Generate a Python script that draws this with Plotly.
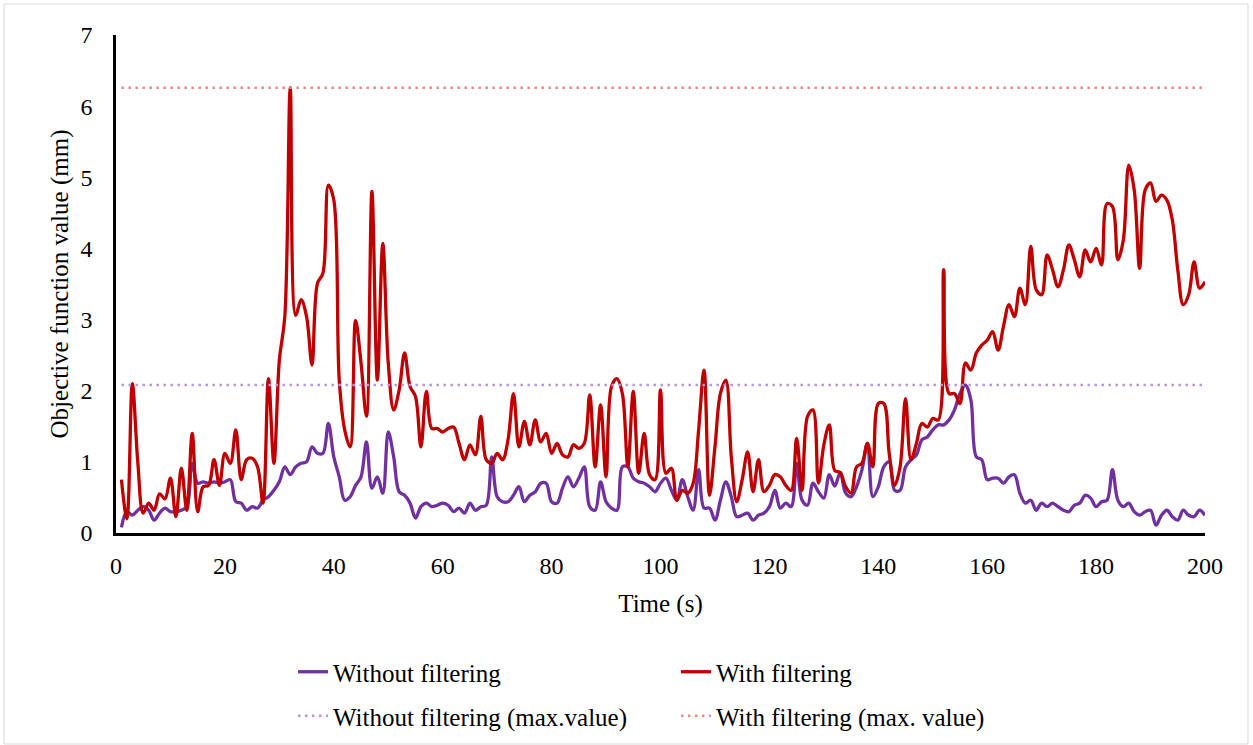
import plotly.graph_objects as go

# Time axis (s)
time = list(range(1, 201))

# Objective function value (mm) - without filtering
without_filtering = [
    0.08, 0.30, 0.25, 0.32, 0.37, 0.32, 0.18, 0.28, 0.35, 0.30,
    0.30, 0.32, 0.37, 0.98, 0.70, 0.72, 0.70, 0.72, 0.70, 0.72,
    0.75, 0.44, 0.42, 0.32, 0.37, 0.35, 0.46, 0.51, 0.60, 0.72,
    0.93, 0.82, 0.93, 0.98, 1.00, 1.21, 1.12, 1.12, 1.54, 1.07,
    0.79, 0.46, 0.51, 0.67, 0.79, 1.28, 0.63, 0.79, 0.56, 1.42,
    1.07, 0.58, 0.53, 0.42, 0.21, 0.37, 0.42, 0.37, 0.39, 0.42,
    0.39, 0.30, 0.35, 0.28, 0.42, 0.32, 0.37, 0.39, 1.07, 0.51,
    0.44, 0.44, 0.53, 0.65, 0.44, 0.53, 0.58, 0.70, 0.70, 0.44,
    0.42, 0.63, 0.79, 0.65, 0.77, 0.93, 0.37, 0.32, 0.72, 0.44,
    0.35, 0.32, 0.93, 0.93, 0.77, 0.72, 0.70, 0.65, 0.58, 0.70,
    0.77, 0.60, 0.46, 0.75, 0.51, 0.32, 0.89, 0.35, 0.35, 0.18,
    0.46, 0.72, 0.51, 0.23, 0.25, 0.28, 0.18, 0.25, 0.28, 0.37,
    0.60, 0.35, 0.42, 0.37, 0.98, 0.46, 0.39, 0.70, 0.58, 0.49,
    0.82, 0.66, 0.85, 0.56, 0.51, 0.65, 0.89, 1.26, 0.51, 0.65,
    0.93, 1.00, 0.60, 0.60, 0.93, 1.03, 1.10, 1.31, 1.35, 1.45,
    1.52, 1.52, 1.59, 1.73, 1.96, 2.08, 1.87, 1.07, 1.03, 0.75,
    0.77, 0.77, 0.70, 0.79, 0.82, 0.56, 0.42, 0.46, 0.32, 0.42,
    0.37, 0.42, 0.37, 0.32, 0.30, 0.39, 0.42, 0.53, 0.49, 0.37,
    0.44, 0.46, 0.89, 0.46, 0.37, 0.42, 0.30, 0.25, 0.30, 0.32,
    0.11, 0.25, 0.32, 0.23, 0.18, 0.32, 0.25, 0.23, 0.32, 0.25,
]

# Objective function value (mm) - with filtering
with_filtering = [
    0.75, 0.20, 2.10, 1.00, 0.28, 0.42, 0.32, 0.55, 0.48, 0.77,
    0.23, 0.91, 0.32, 1.40, 0.30, 0.65, 0.67, 1.03, 0.67, 1.12,
    0.98, 1.45, 0.75, 1.03, 1.05, 0.93, 0.42, 2.17, 0.98, 2.43,
    3.04, 6.26, 3.06, 3.28, 3.04, 2.36, 3.51, 3.65, 4.89, 4.68,
    2.15, 1.45, 1.21, 2.99, 2.39, 1.64, 4.80, 2.15, 4.07, 2.39,
    1.73, 2.01, 2.53, 2.06, 1.92, 1.21, 1.99, 1.47, 1.47, 1.42,
    1.47, 1.49, 1.26, 1.03, 1.24, 1.10, 1.64, 1.03, 0.98, 1.12,
    1.03, 1.31, 1.96, 1.21, 1.57, 1.24, 1.59, 1.28, 1.40, 1.12,
    1.26, 1.10, 1.07, 1.24, 1.19, 1.26, 1.94, 0.93, 1.80, 0.79,
    2.06, 2.17, 1.96, 0.93, 1.99, 0.84, 1.40, 0.82, 0.75, 2.01,
    0.84, 0.91, 0.46, 0.60, 0.56, 0.70, 1.45, 2.29, 0.53, 1.21,
    1.96, 2.15, 1.07, 0.44, 0.75, 1.14, 0.58, 1.03, 0.58, 0.67,
    0.82, 0.79, 0.67, 0.60, 1.33, 0.60, 1.64, 1.73, 0.70, 1.24,
    1.52, 0.88, 0.85, 0.65, 0.56, 0.93, 0.98, 1.26, 0.93, 1.82,
    1.82, 1.12, 0.67, 0.93, 1.89, 1.03, 1.26, 1.54, 1.49, 1.61,
    1.59, 3.70, 1.96, 1.96, 1.82, 2.39, 2.29, 2.53, 2.64, 2.71,
    2.83, 2.57, 2.91, 3.21, 3.04, 3.44, 3.21, 4.03, 3.42, 3.35,
    3.91, 3.70, 3.46, 3.70, 4.05, 3.84, 3.60, 3.98, 3.81, 4.00,
    3.77, 4.63, 4.59, 3.84, 4.12, 5.17, 4.82, 3.72, 4.82, 4.92,
    4.66, 4.75, 4.68, 4.40, 3.70, 3.21, 3.35, 3.81, 3.44, 3.53,
]

x_ticks = [0, 20, 40, 60, 80, 100, 120, 140, 160, 180, 200]
y_ticks = [0, 1, 2, 3, 4, 5, 6, 7]

max_without = max(without_filtering)
max_with = max(with_filtering)
without_max_line = [max_without] * len(time)
with_max_line = [max_with] * len(time)

FONT = "Liberation Serif"
PURPLE = "#7030A0"
RED = "#C00000"
PURPLE_DOT = "#B896DA"
RED_DOT = "#EA8A8A"

fig = go.Figure()
fig.add_trace(go.Scatter(x=time, y=without_filtering, mode="lines", name="Without filtering",
                         line=dict(color=PURPLE, width=3.3, shape="spline", smoothing=1.0),
                         legend="legend"))
fig.add_trace(go.Scatter(x=time, y=with_filtering, mode="lines", name="With filtering",
                         line=dict(color=RED, width=3.3, shape="spline", smoothing=1.0),
                         legend="legend2"))
fig.add_trace(go.Scatter(x=time, y=without_max_line, mode="lines", name="Without filtering (max.value)",
                         line=dict(color=PURPLE_DOT, width=2.5, dash="2.5px,4.5px"),
                         legend="legend3"))
fig.add_trace(go.Scatter(x=time, y=with_max_line, mode="lines", name="With filtering (max. value)",
                         line=dict(color=RED_DOT, width=2.5, dash="2.5px,4.5px"),
                         legend="legend4"))

L, R, T, B = 116, 48, 35, 212
W, H = 1253, 745
pw = W - L - R
ph = H - T - B

def px_x(p):
    return (p - L) / pw

def px_y(p):
    return (H - B - p) / ph

legend_font = dict(family=FONT, size=25, color="#000000")
def leg(xpix, ypix):
    return dict(x=px_x(xpix), y=px_y(ypix), xanchor="left", yanchor="middle",
                orientation="h", font=legend_font, bgcolor="rgba(0,0,0,0)")

fig.update_layout(
    width=W, height=H,
    margin=dict(l=L, r=R, t=T, b=B, autoexpand=False),
    paper_bgcolor="white", plot_bgcolor="white",
    font=dict(family=FONT, size=24, color="#000000"),
    showlegend=True,
    legend=leg(293, 672),
    legend2=leg(676, 672),
    legend3=leg(293, 716),
    legend4=leg(676, 716),
    xaxis=dict(range=[0, 200], tickvals=x_ticks, ticktext=[str(v) for v in x_ticks],
               showgrid=False, zeroline=False, showline=True, linecolor="#000000", linewidth=2.5,
               ticks="", ticklabelstandoff=9,
               tickfont=dict(family=FONT, size=24, color="#000000"),
               title=dict(text="Time (s)", font=dict(family=FONT, size=25, color="#000000"), standoff=17)),
    yaxis=dict(range=[0, 7], tickvals=y_ticks, ticktext=[str(v) for v in y_ticks],
               showgrid=False, zeroline=False, showline=True, linecolor="#000000", linewidth=2.5,
               ticks="", ticklabelstandoff=16,
               tickfont=dict(family=FONT, size=24, color="#000000"),
               title=dict(text="Objective function value (mm)", font=dict(family=FONT, size=25, color="#000000"), standoff=5)),
    shapes=[dict(type="rect", xref="paper", yref="paper",
                 x0=px_x(4), x1=px_x(1248), y0=px_y(744), y1=px_y(4),
                 line=dict(color="#D9D9D9", width=1), fillcolor="rgba(0,0,0,0)", layer="below")],
)

fig.write_html("out.html", config={"displayModeBar": False})
